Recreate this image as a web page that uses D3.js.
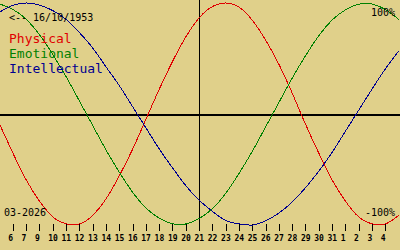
<!DOCTYPE html>
<html lang="en">
  <head>
    <meta charset="UTF-8" />
    <title>Biorhythm</title>
    <script src="https://d3js.org/d3.v7.min.js"></script>
    <style>
      body { margin: 0; background: #e0d08a; }
      svg { display: block; }
      text { font-family: 'DejaVu Sans Mono', monospace; }
    </style>
  </head>
  <body>
    <svg width="400" height="250"></svg>
    <script>
      // one value per day, 6 March .. 5 April (index 0..30)
      var physical = [-0.10, -0.36, -0.60, -0.79, -0.93, -0.99, -0.99, -0.91, -0.76, -0.55, -0.31, -0.04, 0.23, 0.48, 0.70, 0.87, 0.97, 1.00, 0.96, 0.84, 0.66, 0.44, 0.18, -0.10, -0.36, -0.60, -0.79, -0.93, -0.99, -0.99, -0.91]
      var emotional = [0.99, 0.94, 0.85, 0.71, 0.53, 0.33, 0.11, -0.11, -0.33, -0.53, -0.71, -0.85, -0.94, -0.99, -0.99, -0.94, -0.85, -0.71, -0.53, -0.33, -0.11, 0.11, 0.33, 0.53, 0.71, 0.85, 0.94, 0.99, 0.99, 0.94, 0.85]
      var intellectual = [0.92, 0.98, 1.00, 0.98, 0.93, 0.85, 0.73, 0.59, 0.42, 0.25, 0.06, -0.13, -0.32, -0.49, -0.65, -0.78, -0.88, -0.96, -0.99, -1.00, -0.96, -0.89, -0.79, -0.66, -0.51, -0.34, -0.15, 0.04, 0.23, 0.41, 0.57]

      // tick labels as printed under ticks 1..29
      var tickLabels = ['6', '7', '9', '10', '11', '12', '13', '14', '15', '16', '17', '18', '19', '20', '21', '22', '23', '24', '25', '26', '27', '28', '29', '30', '31', '1', '2', '3', '4']
      var todayIndex = 15
      var series = [
        { name: 'Physical', values: physical, color: '#e00000' },
        { name: 'Emotional', values: emotional, color: '#008000' },
        { name: 'Intellectual', values: intellectual, color: '#000090' }
      ]

      var svg = d3.select('svg')

      var x = d3.scaleLinear().domain([0, 30]).range([0, 399])
      var y = d3.scaleLinear().domain([-1, 1]).range([225, 3])
      var px = function(v) { return Math.floor(v) + 0.5 }

      // axes lines
      svg.append('line')
        .attr('x1', 0).attr('x2', 400)
        .attr('y1', y(0) + 1).attr('y2', y(0) + 1)
        .attr('stroke', '#000').attr('stroke-width', 2)
        .attr('shape-rendering', 'crispEdges')

      svg.append('line')
        .attr('x1', px(x(todayIndex))).attr('x2', px(x(todayIndex)))
        .attr('y1', 0).attr('y2', 230)
        .attr('stroke', '#000').attr('stroke-width', 1)
        .attr('shape-rendering', 'crispEdges')

      // day ticks
      var ticks = d3.range(1, 30)
      var tg = svg.selectAll('.tick')
        .data(ticks)
        .enter()
        .append('g')
        .attr('class', 'tick')

      tg.append('line')
        .attr('x1', function(d) { return px(x(d)) })
        .attr('x2', function(d) { return px(x(d)) })
        .attr('y1', 224).attr('y2', 231)
        .attr('stroke', '#000')
        .attr('shape-rendering', 'crispEdges')

      tg.append('text')
        .attr('x', function(d) { return x(d) - 5 })
        .attr('y', 241)
        .attr('font-size', 8)
        .attr('font-weight', 'bold')
        .text(function(d, i) { return tickLabels[i] })

      // curves
      var line = d3.line()
        .x(function(d, i) { return x(i) })
        .y(function(d) { return y(d) })
        .curve(d3.curveNatural)

      svg.selectAll('.curve')
        .data(series)
        .enter()
        .append('path')
        .attr('class', 'curve')
        .attr('d', function(d) { return line(d.values) })
        .attr('fill', 'none')
        .attr('stroke', function(d) { return d.color })
        .attr('stroke-width', 1)
        .attr('shape-rendering', 'crispEdges')

      // texts
      svg.append('text')
        .attr('x', 9).attr('y', 20.5)
        .attr('font-size', 10)
        .text('<-- 16/10/1953')

      svg.selectAll('.legend')
        .data(series)
        .enter()
        .append('text')
        .attr('class', 'legend')
        .attr('x', 9)
        .attr('y', function(d, i) { return 42.5 + i * 15 })
        .attr('font-size', 13)
        .attr('fill', function(d) { return d.color })
        .text(function(d) { return d.name })

      svg.append('text')
        .attr('x', 395).attr('y', 16)
        .attr('font-size', 10)
        .attr('text-anchor', 'end')
        .text('100%')

      svg.append('text')
        .attr('x', 395).attr('y', 216)
        .attr('font-size', 10)
        .attr('text-anchor', 'end')
        .text('-100%')

      svg.append('text')
        .attr('x', 4).attr('y', 216)
        .attr('font-size', 10)
        .text('03-2026')
    </script>
  </body>
</html>
